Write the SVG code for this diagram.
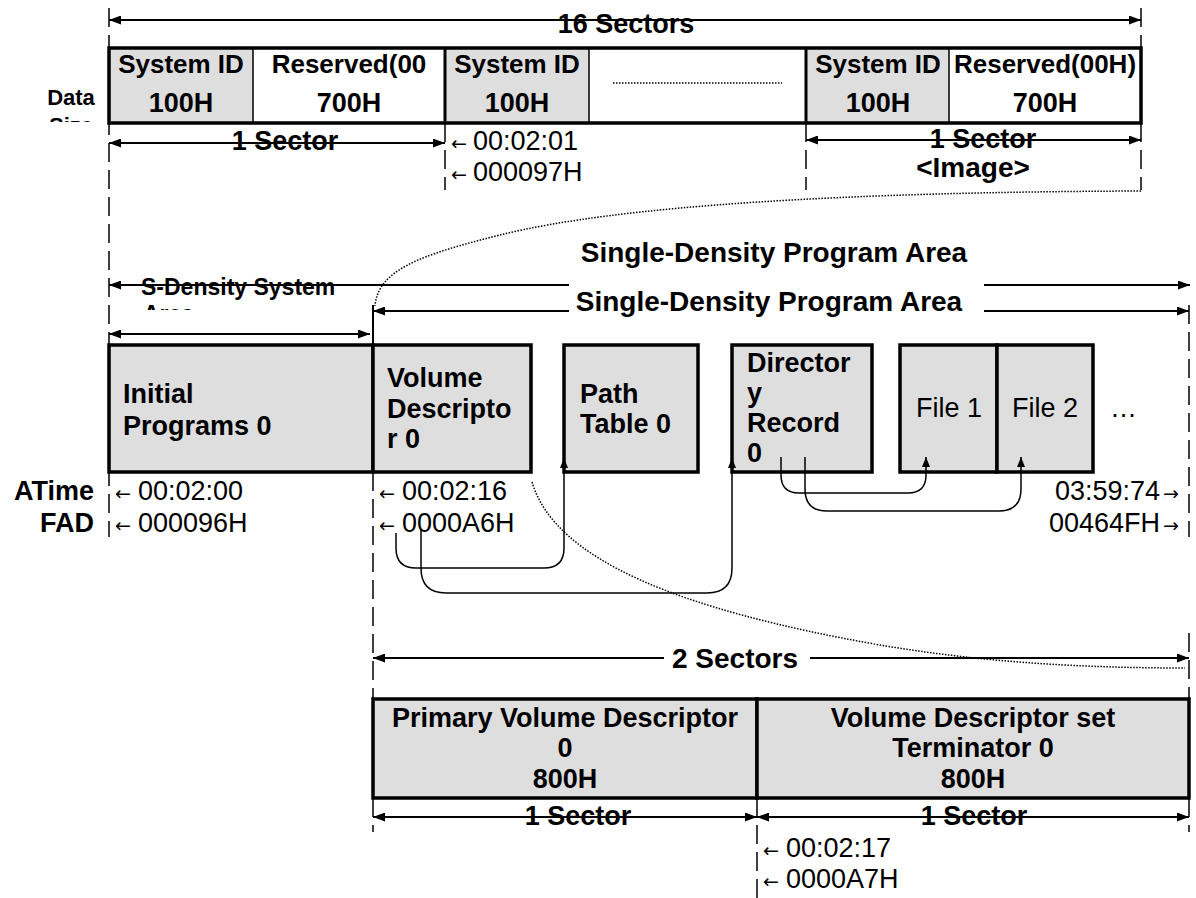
<svg xmlns="http://www.w3.org/2000/svg" width="1196" height="898" viewBox="0 0 1196 898">
<style>
.b{font-family:"Liberation Sans",Arial,sans-serif;font-weight:bold;font-size:27px;fill:#000}
.r{font-family:"Liberation Sans",Arial,sans-serif;font-size:27px;fill:#000}
.ar{font-family:"DejaVu Sans",sans-serif;font-size:19px;fill:#000}
.big{font-size:28px}
.m{text-anchor:middle}
.e{text-anchor:end}
.g{fill:#dedede;stroke:none}
.frame{fill:none;stroke:#000;stroke-width:3.5}
.box{fill:#dedede;stroke:#000;stroke-width:3.5}
.thin{stroke:#000;stroke-width:1.5}
.thick{stroke:#000;stroke-width:3}
.dash{stroke:#000;stroke-width:1.5;stroke-dasharray:19 8;fill:none}
.dot{stroke:#000;stroke-width:1.5;stroke-dasharray:1.5 1.5;fill:none}
.dim{stroke:#000;stroke-width:2;fill:none;marker-start:url(#ah);marker-end:url(#ah)}
.dimr{stroke:#000;stroke-width:2;fill:none;marker-end:url(#ah)}
.diml{stroke:#000;stroke-width:2;fill:none;marker-start:url(#ah)}
.line{stroke:#000;stroke-width:2;fill:none}
.conn{stroke:#000;stroke-width:1.5;fill:none;marker-end:url(#ch)}
</style>
<defs>
<marker id="ah" markerUnits="userSpaceOnUse" markerWidth="13" markerHeight="9" refX="12" refY="4.5" orient="auto-start-reverse"><path d="M0,0 L12,4.5 L0,9 z" fill="#000"/></marker>
<marker id="ch" markerUnits="userSpaceOnUse" markerWidth="11" markerHeight="9" refX="10" refY="4" orient="auto"><path d="M0,0 L10,4 L0,8 z" fill="#000"/></marker>
<clipPath id="clipData"><rect x="20" y="80" width="100" height="42"/></clipPath>
<clipPath id="clipSD"><rect x="120" y="265" width="240" height="45"/></clipPath>
</defs>

<g id="guides">
<path class="dash" d="M109,8 V537"/>
<path class="dash" d="M1141,8 V47 M1141,123 V190"/>
<path class="dash" d="M445,123 V190"/>
<path class="dash" d="M806,123 V190"/>
<path class="line" d="M373,305 V345"/>
<path class="dash" d="M373,472 V700 M373,798 V832"/>
<path class="dash" d="M1189,305 V537 M1189,633 V700 M1189,798 V832"/>
<path class="dash" d="M757,798 V898"/>
<path class="dot" d="M1141,191 C850,192 620,205 500,235 C420,255 378,270 375,306"/>
<path class="dot" d="M532,482 C555,560 680,610 880,645 C980,662 1080,668 1185,668"/>
</g>

<g id="sector-row">
<rect class="g" x="109" y="48" width="144" height="75"/>
<rect class="g" x="445" y="48" width="144" height="75"/>
<rect class="g" x="806" y="48" width="143" height="75"/>
<line class="thin" x1="253" y1="48" x2="253" y2="123"/>
<line class="thick" x1="445" y1="48" x2="445" y2="123"/>
<line class="thin" x1="589" y1="48" x2="589" y2="123"/>
<line class="thick" x1="806" y1="48" x2="806" y2="123"/>
<line class="thin" x1="949" y1="48" x2="949" y2="123"/>
<rect class="frame" x="109" y="48" width="1032" height="75"/>
<line class="dot" x1="613" y1="83" x2="782" y2="83"/>
<text class="b m" x="181" y="73" style="font-size:26px">System ID</text>
<text class="b m" x="181" y="112">100H</text>
<text class="b m" x="349" y="73" style="font-size:26px">Reserved(00</text>
<text class="b m" x="349" y="112">700H</text>
<text class="b m" x="517" y="73" style="font-size:26px">System ID</text>
<text class="b m" x="517" y="112">100H</text>
<text class="b m" x="878" y="73" style="font-size:26px">System ID</text>
<text class="b m" x="878" y="112">100H</text>
<text class="b m" x="1045" y="73" style="font-size:26px">Reserved(00H)</text>
<text class="b m" x="1045" y="112">700H</text>
</g>

<g id="data-size-label" clip-path="url(#clipData)">
<text class="b m" x="71" y="105" style="font-size:22px">Data</text>
<text class="b m" x="71" y="133" style="font-size:22px">Size</text>
</g>

<g id="initial-programs">
<rect class="box" x="109" y="345" width="264" height="127"/>
<text class="b" x="123" y="403">Initial</text>
<text class="b" x="123" y="435">Programs 0</text>
</g>
<g id="volume-descriptor">
<rect class="box" x="373" y="345" width="158" height="127"/>
<text class="b" x="387" y="387">Volume</text>
<text class="b" x="387" y="418">Descripto</text>
<text class="b" x="387" y="448">r 0</text>
</g>
<g id="path-table">
<rect class="box" x="564" y="345" width="134" height="127"/>
<text class="b" x="580" y="403">Path</text>
<text class="b" x="580" y="433">Table 0</text>
</g>
<g id="directory-record">
<rect class="box" x="732" y="345" width="140" height="127"/>
<text class="b" x="747" y="372">Director</text>
<text class="b" x="747" y="402">y</text>
<text class="b" x="747" y="432">Record</text>
<text class="b" x="747" y="462">0</text>
</g>
<g id="file-1">
<rect class="box" x="900" y="345" width="97" height="127"/>
<text class="r m" x="949" y="417">File 1</text>
</g>
<g id="file-2">
<rect class="box" x="997" y="345" width="96" height="127"/>
<text class="r m" x="1045" y="417">File 2</text>
</g>
<text class="r" x="1110" y="417">…</text>

<g id="descriptor-row">
<rect class="box" x="373" y="699" width="384" height="99"/>
<rect class="box" x="757" y="699" width="432" height="99"/>
<text class="b m" x="565" y="727">Primary Volume Descriptor</text>
<text class="b m" x="565" y="757">0</text>
<text class="b m" x="565" y="788">800H</text>
<text class="b m" x="973" y="727">Volume Descriptor set</text>
<text class="b m" x="973" y="757">Terminator 0</text>
<text class="b m" x="973" y="788">800H</text>
</g>

<g id="connectors">
<path class="dim" d="M109,20 H1141"/>
<path class="dim" d="M109,143 H445"/>
<path class="dim" d="M806,140 H1141"/>
<path class="diml" d="M109,285 H569"/>
<path class="dimr" d="M984,285 H1190"/>
<path class="diml" d="M373,311 H569"/>
<path class="dimr" d="M984,311 H1189"/>
<path class="dim" d="M109,334 H370"/>
<path class="diml" d="M373,658 H664"/>
<path class="dimr" d="M810,658 H1189"/>
<path class="dim" d="M373,817 H757"/>
<path class="dim" d="M757,817 H1189"/>
<path class="conn" d="M396,533 V548 Q396,568 416,568 H544 Q564,568 564,548 V458"/>
<path class="conn" d="M421,530 V568 Q421,593 446,593 H707 Q732,593 732,568 V458"/>
<path class="conn" d="M781,457 V475 Q781,493 799,493 H908 Q926,493 926,475 V457"/>
<path class="conn" d="M805,457 V489 Q805,511 827,511 H999 Q1021,511 1021,489 V457"/>
</g>

<g id="labels">
<text class="b m" x="626" y="33">16 Sectors</text>
<text class="b m" x="285" y="150">1 Sector</text>
<text class="b m" x="983" y="148">1 Sector</text>
<text class="b m big" x="973" y="177">&lt;Image&gt;</text>
<text class="ar" x="451" y="150">←</text><text class="r" x="473" y="150">00:02:01</text>
<text class="ar" x="451" y="181">←</text><text class="r" x="473" y="181">000097H</text>
<text class="b m big" x="774" y="262">Single-Density Program Area</text>
<text class="b m big" x="769" y="311">Single-Density Program Area</text>
<g clip-path="url(#clipSD)">
<text class="b" x="141" y="295" style="font-size:23px">S-Density System</text>
<text class="b" x="143" y="322" style="font-size:23px">Area</text>
</g>
<text class="b e" x="94" y="500">ATime</text>
<text class="b e" x="94" y="532">FAD</text>
<text class="ar" x="115" y="500">←</text><text class="r" x="138" y="500">00:02:00</text>
<text class="ar" x="115" y="532">←</text><text class="r" x="138" y="532">000096H</text>
<text class="ar" x="379" y="500">←</text><text class="r" x="402" y="500">00:02:16</text>
<text class="ar" x="379" y="532">←</text><text class="r" x="402" y="532">0000A6H</text>
<text class="r e" x="1160" y="500">03:59:74</text><text class="ar" x="1163" y="500">→</text>
<text class="r e" x="1160" y="532">00464FH</text><text class="ar" x="1163" y="532">→</text>
<text class="b m big" x="735" y="668">2 Sectors</text>
<text class="b m" x="578" y="825">1 Sector</text>
<text class="b m" x="974" y="825">1 Sector</text>
<text class="ar" x="763" y="857">←</text><text class="r" x="786" y="857">00:02:17</text>
<text class="ar" x="763" y="888">←</text><text class="r" x="786" y="888">0000A7H</text>
</g>
</svg>
